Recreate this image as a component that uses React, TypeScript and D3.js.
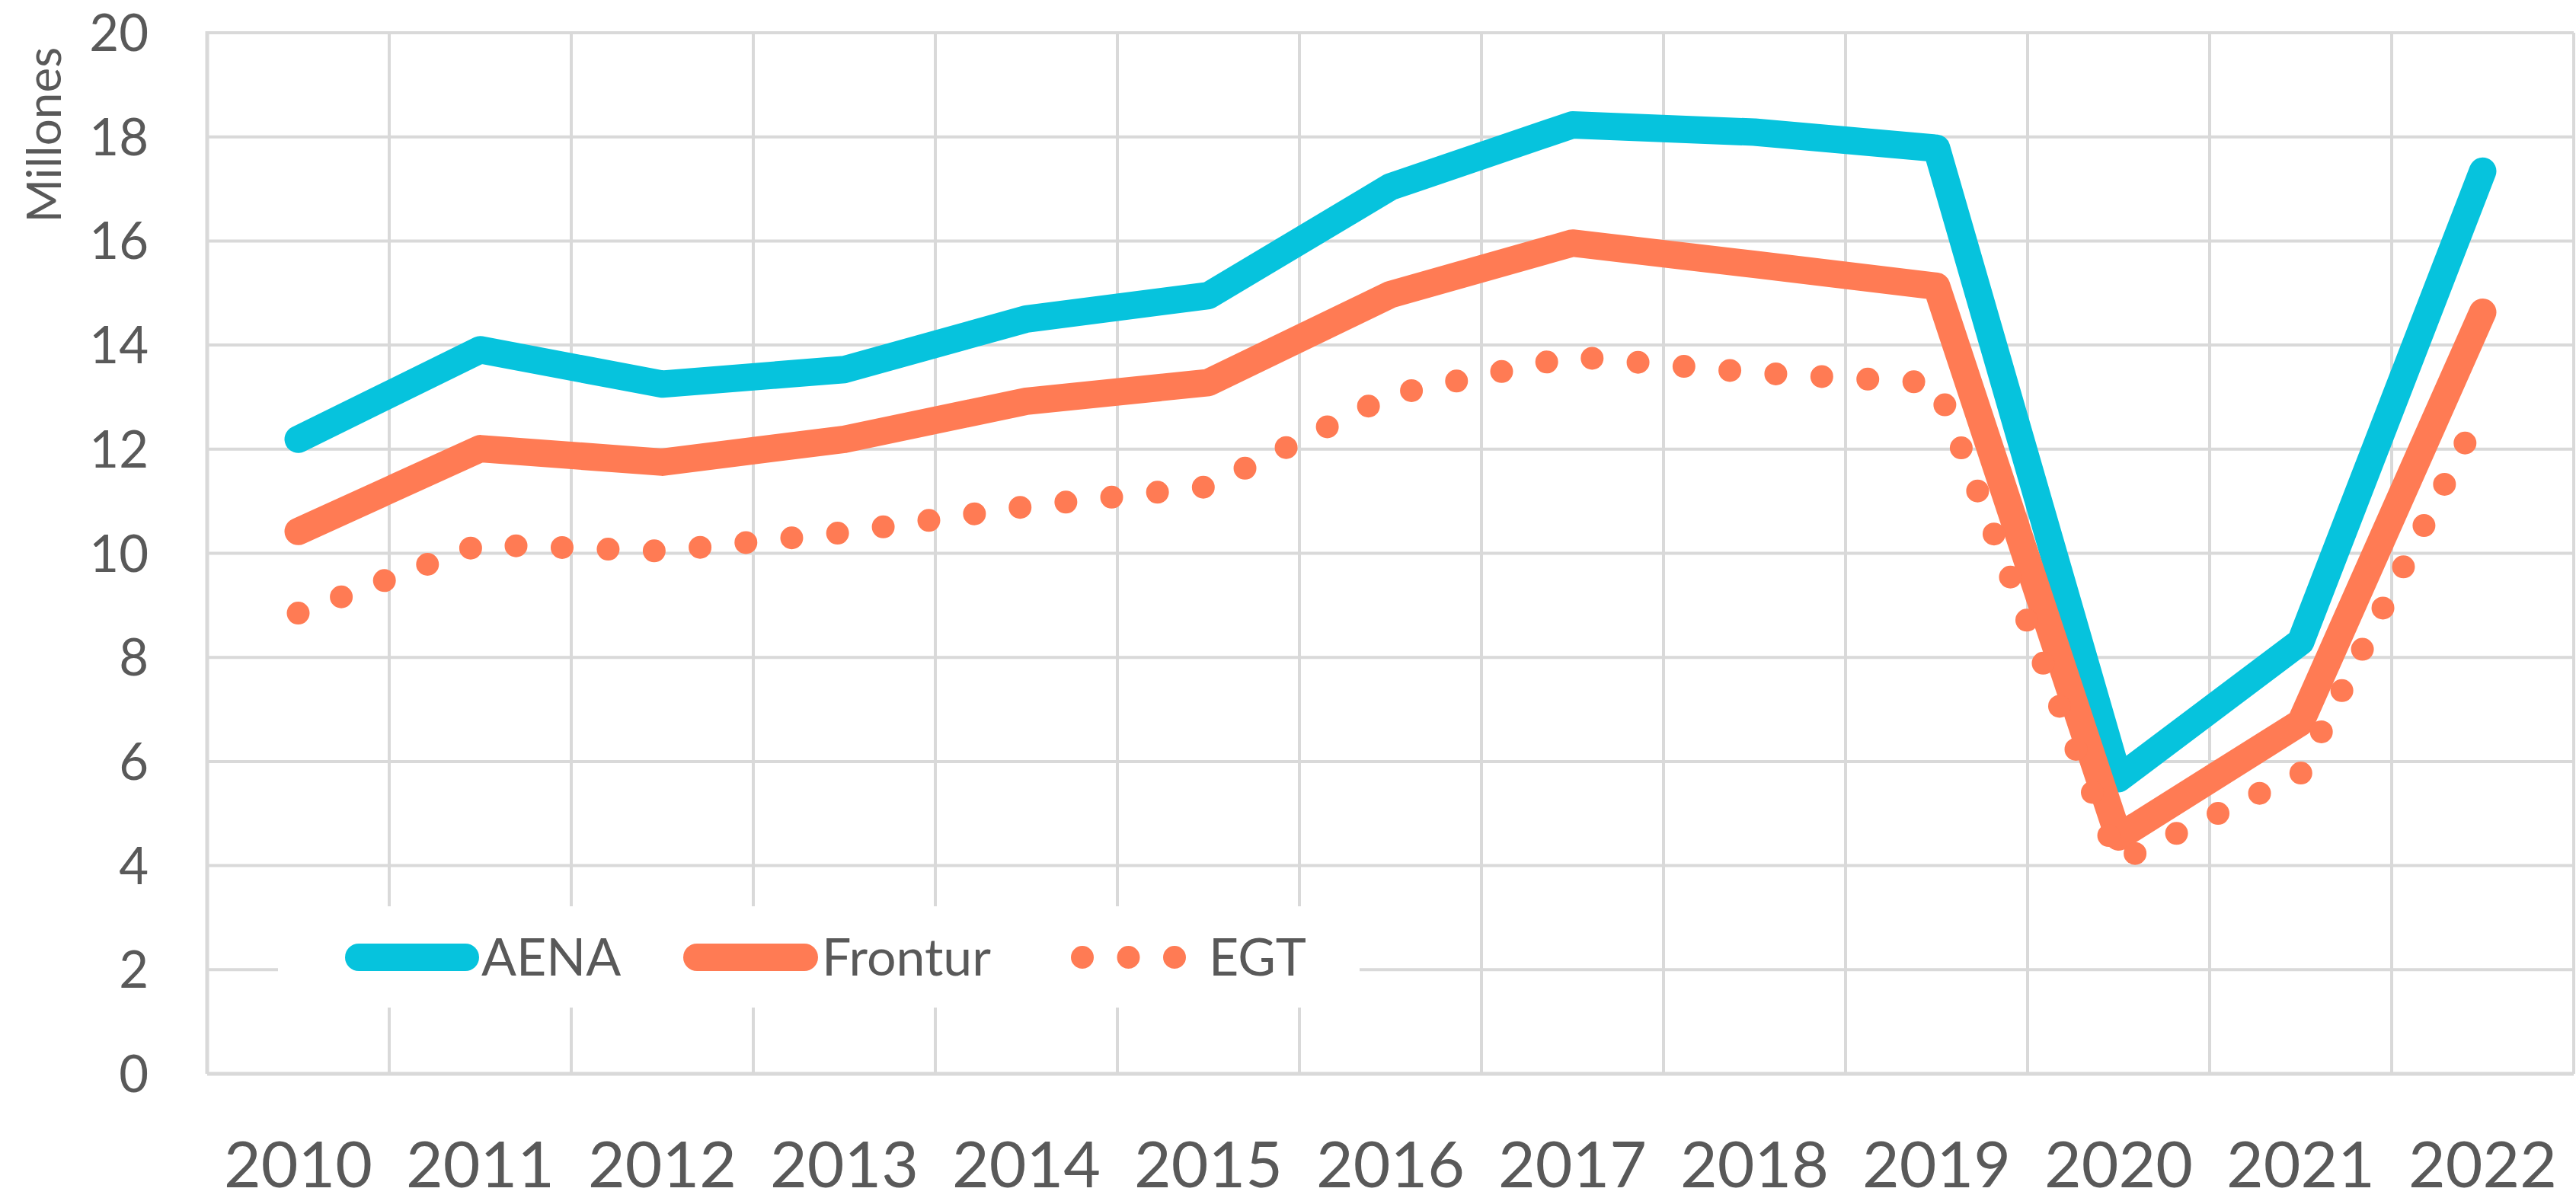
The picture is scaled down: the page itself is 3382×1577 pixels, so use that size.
import React from "react";
import * as d3 from "d3";

const years: string[] = ["2010","2011","2012","2013","2014","2015","2016","2017","2018","2019","2020","2021","2022"];
const aena: number[] = [12.19, 13.91, 13.25, 13.53, 14.5, 14.95, 17.04, 18.23, 18.09, 17.78, 5.67, 8.3, 17.34];
const frontur: number[] = [10.42, 12.01, 11.75, 12.19, 12.92, 13.28, 14.97, 15.96, 15.55, 15.13, 4.55, 6.75, 14.63];
const egt: number[] = [8.85, 10.17, 10.04, 10.4, 10.9, 11.28, 13.04, 13.78, 13.47, 13.27, 4.08, 5.77, 12.8];
const yTicks: number[] = [0, 2, 4, 6, 8, 10, 12, 14, 16, 18, 20];
const seriesNames: string[] = ["AENA", "Frontur", "EGT"];
const yUnitLabel = "Millones";

const W = 3382;
const H = 1577;
const LEFT = 272;
const RIGHT = 3379;
const TOP = 43;
const BOTTOM = 1410;

const CYAN = "#06C3DD";
const CORAL = "#FF7B54";
const GRID = "#D9D9D9";
const TEXT = "#595959";
const FONT = "Lato, 'Open Sans', sans-serif";

export default function App() {
  const x = d3.scaleBand<string>().domain(years).range([LEFT, RIGHT]).padding(0);
  const y = d3.scaleLinear().domain([0, 20]).range([BOTTOM, TOP]);
  const bw = x.bandwidth();
  const cx = (yr: string) => (x(yr) as number) + bw / 2;

  const line = d3
    .line<number>()
    .x((_, i) => cx(years[i]))
    .y((v) => y(v));

  const boundaries = years.map((yr) => (x(yr) as number) + bw);

  // legend layout
  const legY = 1257;
  const legItems = [
    { name: seriesNames[0], x1: 471, x2: 611, tx: 632, color: CYAN, dotted: false },
    { name: seriesNames[1], x1: 915, x2: 1056, tx: 1079, color: CORAL, dotted: false },
    { name: seriesNames[2], x1: 1421, x2: 1542, tx: 1587, color: CORAL, dotted: true },
  ];

  return (
    <svg
      width={W}
      height={H}
      viewBox={`0 0 ${W} ${H}`}
      style={{ position: "absolute", left: 0, top: 0, background: "#fff" }}
    >
      <rect x={0} y={0} width={W} height={H} fill="#fff" />
      {/* horizontal gridlines */}
      {yTicks.map((t) => (
        <line key={"h" + t} x1={LEFT} x2={RIGHT} y1={y(t)} y2={y(t)} stroke={GRID} strokeWidth={4} />
      ))}
      {/* vertical gridlines */}
      {boundaries.map((bx, i) => (
        <line key={"v" + i} x1={bx} x2={bx} y1={TOP} y2={BOTTOM} stroke={GRID} strokeWidth={4} />
      ))}
      {/* axes */}
      <line x1={LEFT} x2={LEFT} y1={TOP - 2} y2={BOTTOM} stroke={GRID} strokeWidth={5} />
      <line x1={LEFT} x2={RIGHT} y1={BOTTOM} y2={BOTTOM} stroke={GRID} strokeWidth={5} />

      {/* y tick labels */}
      {yTicks.map((t) => (
        <text
          key={"yt" + t}
          x={195}
          y={y(t) + 24}
          textAnchor="end"
          fontFamily={FONT}
          fontSize={67}
          fill={TEXT}
        >
          {t}
        </text>
      ))}
      {/* unit label */}
      <text
        transform={`translate(80, 62) rotate(-90)`}
        textAnchor="end"
        fontFamily={FONT}
        fontSize={62}
        fill={TEXT}
      >
        {yUnitLabel}
      </text>

      {/* x tick labels */}
      {years.map((yr) => (
        <text
          key={"xt" + yr}
          x={cx(yr)}
          y={1559}
          textAnchor="middle"
          fontFamily={FONT}
          fontSize={84}
          fill={TEXT}
        >
          {yr}
        </text>
      ))}

      {/* series */}
      <path d={line(aena) || ""} fill="none" stroke={CYAN} strokeWidth={36} strokeLinecap="round" strokeLinejoin="round" />
      <path d={line(frontur) || ""} fill="none" stroke={CORAL} strokeWidth={36} strokeLinecap="round" strokeLinejoin="round" />
      <path
        d={line(egt) || ""}
        fill="none"
        stroke={CORAL}
        strokeWidth={30}
        strokeLinecap="round"
        strokeLinejoin="round"
        strokeDasharray="0 60.5"
      />

      {/* legend */}
      <rect x={365} y={1190} width={1420} height={133} fill="#fff" />
      {legItems.map((it) => (
        <g key={it.name}>
          {it.dotted ? (
            <line
              x1={it.x1}
              x2={it.x2 + 1}
              y1={legY}
              y2={legY}
              stroke={it.color}
              strokeWidth={30}
              strokeLinecap="round"
              strokeDasharray="0 60.5"
            />
          ) : (
            <line x1={it.x1} x2={it.x2} y1={legY} y2={legY} stroke={it.color} strokeWidth={36} strokeLinecap="round" />
          )}
          <text x={it.tx} y={1281} fontFamily={FONT} fontSize={68} fill={TEXT}>
            {it.name}
          </text>
        </g>
      ))}
    </svg>
  );
}
